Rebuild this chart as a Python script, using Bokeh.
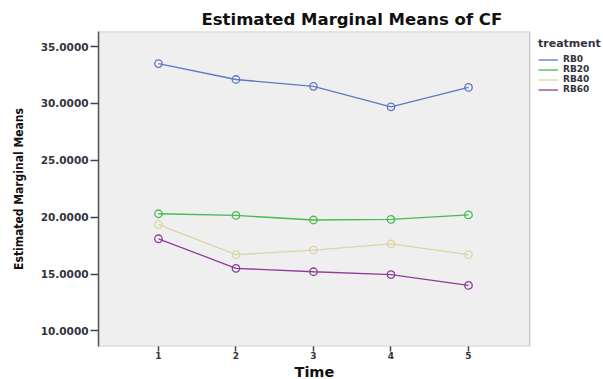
from bokeh.plotting import figure
from bokeh.models import (Range1d, FixedTicker, PrintfTickFormatter, Legend, LegendItem,
                          Title, BoxAnnotation)
from bokeh.embed import file_html
from bokeh.resources import INLINE

# ---- data ----
time_points = [1, 2, 3, 4, 5]
treatments = ["RB0", "RB20", "RB40", "RB60"]
rb0 = [33.5, 32.1, 31.5, 29.7, 31.4]
rb20 = [20.3, 20.15, 19.75, 19.8, 20.2]
rb40 = [19.35, 16.7, 17.1, 17.65, 16.7]
rb60 = [18.1, 15.5, 15.2, 14.95, 14.0]
y_ticks = [10, 15, 20, 25, 30, 35]
series = [rb0, rb20, rb40, rb60]
colors = ["#5f78c6", "#46bb50", "#dad6a6", "#8e3e98"]

FONT = "DejaVu Sans"
TEXT = "#333340"
X_AREA_END = 5.79   # right edge of the grey plotting area (data units)

p = figure(width=603, height=379, output_backend="svg", toolbar_location=None,
           x_range=Range1d(0.226, 6.742), y_range=Range1d(8.63, 36.32),
           min_border_left=98, min_border_right=0, min_border_top=31, min_border_bottom=33,
           background_fill_color="white", border_fill_color="white")
p.title = Title(text="Estimated Marginal Means of CF", text_font=FONT, text_font_size="16.5px",
                text_font_style="bold", text_color="#111111", align="left", offset=103, standoff=5)
p.grid.visible = False
p.outline_line_color = None

# grey plotting area with its frame
area = BoxAnnotation(right=X_AREA_END, fill_color="#efefef", fill_alpha=1.0,
                     line_color="#666666", line_width=1.5, level="underlay")
p.add_layout(area)

# axes
p.yaxis.ticker = FixedTicker(ticks=y_ticks)
p.yaxis.formatter = PrintfTickFormatter(format="%.4f")
p.xaxis.ticker = FixedTicker(ticks=time_points)
for ax in (p.xaxis[0], p.yaxis[0]):
    ax.axis_line_color = "#555555"
    ax.axis_line_width = 1.5
    ax.major_tick_line_color = "#444444"
    ax.major_tick_line_width = 1.5
    ax.minor_tick_line_color = None
    ax.major_tick_in = 0
    ax.major_label_text_font = FONT
    ax.major_label_text_font_style = "bold"
    ax.major_label_text_color = TEXT
p.xaxis.axis_line_color = None
p.yaxis.major_tick_out = 8
p.yaxis.major_label_text_font_size = "10.5px"
p.yaxis.major_label_standoff = 2
p.yaxis.axis_label = "Estimated Marginal Means"
p.yaxis.axis_label_text_font = "'DejaVu Sans Condensed', 'DejaVu Sans', sans-serif"
p.yaxis.axis_label_text_font_size = "12px"
p.yaxis.axis_label_text_font_style = "bold"
p.yaxis.axis_label_text_color = "#111111"
p.yaxis.axis_label_standoff = 12

p.xaxis.major_tick_out = 5
p.xaxis.major_label_text_font_size = "9px"
p.xaxis.major_label_standoff = 0

# x axis title, centred under the grey area
p.add_layout(Title(text="Time", text_font=FONT, text_font_size="14.5px", text_font_style="bold",
                   text_color="#111111", align="left", offset=196, standoff=0), "below")

items = []
for name, vals, col in zip(treatments, series, colors):
    ln = p.line(time_points, vals, line_color=col, line_width=1.3)
    p.scatter(time_points, vals, marker="circle", size=7.5, fill_color=None,
              line_color=col, line_width=1.3)
    items.append(LegendItem(label=name, renderers=[ln]))

legend = Legend(items=items, location=(440, 252), title="treatment",
                title_text_font=FONT, title_text_font_size="11px", title_text_font_style="bold",
                title_text_color=TEXT, title_standoff=4,
                label_text_font=FONT, label_text_font_size="9px", label_text_font_style="bold",
                label_text_color=TEXT, label_standoff=5, label_height=9, glyph_height=9,
                glyph_width=20, spacing=0, padding=0, margin=0,
                border_line_color=None, background_fill_alpha=0)
p.add_layout(legend, "center")

open("out.html", "w").write(file_html(p, INLINE))
